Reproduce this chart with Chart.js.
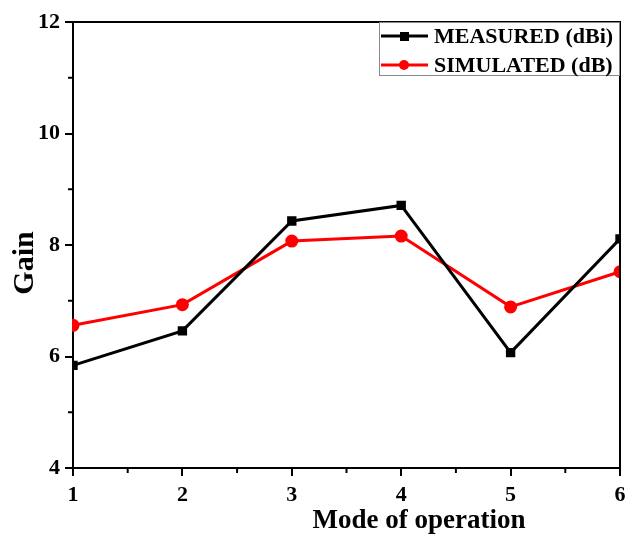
<!DOCTYPE html>
<html>
<head>
<meta charset="utf-8">
<script src="https://cdn.jsdelivr.net/npm/chart.js@4/dist/chart.umd.min.js"></script>
<style>
html,body{margin:0;padding:0;background:#fff;}
#wrap{width:628px;height:534px;position:relative;}
</style>
</head>
<body>
<div id="wrap"><canvas id="c" width="628" height="534"></canvas></div>
<script>
const modes = [1, 2, 3, 4, 5, 6];
const measured = [5.84, 6.46, 8.43, 8.71, 6.07, 8.11];
const simulated = [6.56, 6.93, 8.07, 8.16, 6.89, 7.52];
const yTicks = [4, 6, 8, 10, 12];
const xTicks = [1, 2, 3, 4, 5, 6];
const xTitle = 'Mode of operation';
const yTitle = 'Gain';

const FONT = '"Liberation Serif", "Times New Roman", serif';

const extras = {
  id: 'extras',
  afterDraw(chart) {
    const ctx = chart.ctx;
    const a = chart.chartArea;
    const xs = chart.scales.x, ys = chart.scales.y;
    ctx.save();
    ctx.strokeStyle = '#000';
    ctx.lineWidth = 2;
    ctx.beginPath();
    ctx.moveTo(a.left, a.top); ctx.lineTo(a.right, a.top); ctx.lineTo(a.right, a.bottom);
    ctx.stroke();
    for (let i = 0; i < xTicks.length - 1; i++) {
      const v = (xTicks[i] + xTicks[i + 1]) / 2;
      const px = xs.getPixelForValue(v);
      ctx.beginPath(); ctx.moveTo(px, a.bottom); ctx.lineTo(px, a.bottom + 5); ctx.stroke();
    }
    for (let i = 0; i < yTicks.length - 1; i++) {
      const v = (yTicks[i] + yTicks[i + 1]) / 2;
      const py = ys.getPixelForValue(v);
      ctx.beginPath(); ctx.moveTo(a.left, py); ctx.lineTo(a.left - 5, py); ctx.stroke();
    }
    ctx.fillStyle = '#000';
    ctx.font = 'bold 27px ' + FONT;
    ctx.textAlign = 'center';
    ctx.textBaseline = 'alphabetic';
    ctx.fillText(xTitle, 419, 528);
    ctx.save();
    ctx.translate(33, 263);
    ctx.rotate(-Math.PI / 2);
    ctx.font = 'bold 30px ' + FONT;
    ctx.fillText(yTitle, 0, 0);
    ctx.restore();
    const lx = 379, ly = a.top, lw = a.right - lx, lh = 54;
    ctx.fillStyle = '#fff';
    ctx.fillRect(lx, ly, lw, lh);
    ctx.strokeStyle = '#888';
    ctx.lineWidth = 1;
    ctx.strokeRect(lx + 0.5, ly + 0.5, lw - 1, lh - 1);
    const rows = [36, 65];
    chart.data.datasets.forEach((ds, i) => {
      const y = rows[i];
      ctx.strokeStyle = ds.borderColor;
      ctx.lineWidth = 3;
      ctx.beginPath(); ctx.moveTo(381, y); ctx.lineTo(428, y); ctx.stroke();
      ctx.fillStyle = ds.borderColor;
      if (ds.pointStyle === 'rect') {
        ctx.fillRect(400, y - 4, 9, 9);
      } else {
        ctx.beginPath(); ctx.arc(404, y, 5, 0, Math.PI * 2); ctx.fill();
      }
      ctx.fillStyle = '#000';
      ctx.font = 'bold 22px ' + FONT;
      ctx.textAlign = 'left';
      ctx.textBaseline = 'middle';
      ctx.fillText(ds.label, 434, y + 1);
    });
    ctx.restore();
  }
};

new Chart(document.getElementById('c'), {
  type: 'line',
  data: {
    datasets: [
      {
        label: 'MEASURED (dBi)',
        data: modes.map((m, i) => ({x: m, y: measured[i]})),
        borderColor: '#000', backgroundColor: '#000',
        borderWidth: 3, pointStyle: 'rect', pointRadius: 4.5, pointHoverRadius: 4.5,
        tension: 0, clip: 1
      },
      {
        label: 'SIMULATED (dB)',
        data: modes.map((m, i) => ({x: m, y: simulated[i]})),
        borderColor: '#ff0000', backgroundColor: '#ff0000',
        borderWidth: 3, pointStyle: 'circle', pointRadius: 5, pointHoverRadius: 5,
        tension: 0, clip: 1
      }
    ]
  },
  options: {
    responsive: false,
    animation: false,
    events: [],
    layout: { padding: { top: 22, right: 7, left: 0, bottom: 0 } },
    plugins: { legend: { display: false }, tooltip: { enabled: false } },
    scales: {
      x: {
        type: 'linear', min: 1, max: 6,
        afterFit(s) { s.height = 66; s.paddingLeft = 0; s.paddingRight = 0; },
        afterBuildTicks(s) { s.ticks = xTicks.map(v => ({value: v})); },
        ticks: { color: '#000', font: { family: FONT, size: 22, weight: 'bold' }, padding: 6, maxRotation: 0 },
        grid: { drawOnChartArea: false, drawTicks: true, tickLength: 8, color: '#000', lineWidth: 2 },
        border: { display: true, color: '#000', width: 2 },
        title: { display: false }
      },
      y: {
        min: 4, max: 12,
        afterFit(s) { s.width = 73; s.paddingTop = 0; s.paddingBottom = 0; },
        afterBuildTicks(s) { s.ticks = yTicks.map(v => ({value: v})); },
        ticks: { color: '#000', font: { family: FONT, size: 22, weight: 'bold' }, padding: 5 },
        grid: { drawOnChartArea: false, drawTicks: true, tickLength: 8, color: '#000', lineWidth: 2 },
        border: { display: true, color: '#000', width: 2 },
        title: { display: false }
      }
    }
  },
  plugins: [extras]
});
</script>
</body>
</html>
